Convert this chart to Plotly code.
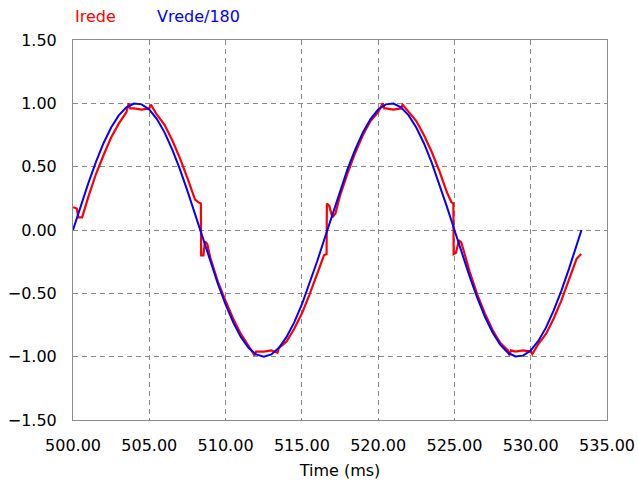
import plotly.graph_objects as go

# Vrede/180 (blue)
vrede_t = [500.0, 500.5, 501.0, 501.5, 502.0, 502.5, 503.0, 503.5, 504.0, 504.5,
           505.0, 505.5, 506.0, 506.5, 507.0, 507.5, 508.0, 508.5, 509.0, 509.5,
           510.0, 510.5, 511.0, 511.5, 512.0, 512.5, 513.0, 513.5, 514.0, 514.5,
           515.0, 515.5, 516.0, 516.5, 517.0, 517.5, 518.0, 518.5, 519.0, 519.5,
           520.0, 520.5, 521.0, 521.5, 522.0, 522.5, 523.0, 523.5, 524.0, 524.5,
           525.0, 525.5, 526.0, 526.5, 527.0, 527.5, 528.0, 528.5, 529.0, 529.5,
           530.0, 530.5, 531.0, 531.5, 532.0, 532.5, 533.0, 533.33]
vrede_v = [0.0, 0.187, 0.368, 0.536, 0.685, 0.809, 0.905, 0.969, 0.998, 0.992,
           0.951, 0.876, 0.771, 0.637, 0.482, 0.309, 0.125, -0.063, -0.249, -0.426,
           -0.588, -0.729, -0.844, -0.930, -0.982, -1.0, -0.982, -0.930, -0.844, -0.729,
           -0.588, -0.426, -0.249, -0.063, 0.125, 0.309, 0.482, 0.637, 0.771, 0.876,
           0.951, 0.992, 0.998, 0.969, 0.905, 0.809, 0.685, 0.536, 0.368, 0.187,
           0.0, -0.187, -0.368, -0.536, -0.685, -0.809, -0.905, -0.969, -0.998, -0.992,
           -0.951, -0.876, -0.771, -0.637, -0.482, -0.309, -0.125, 0.0]

# Irede (red)
irede_t = [500.0, 500.25, 500.35, 500.6, 501.0, 501.5, 502.0, 502.5, 503.0, 503.5,
           503.65, 503.75, 504.0, 504.5, 505.0, 505.1, 505.5, 506.0, 506.5, 507.0,
           507.5, 508.0, 508.2, 508.38, 508.4, 508.55, 508.65, 508.8, 509.0, 509.5,
           510.0, 510.5, 511.0, 511.5, 511.9, 512.0, 512.5, 513.0, 513.4, 513.5,
           514.0, 514.5, 515.0, 515.5, 516.0, 516.45, 516.62, 516.64, 516.8, 517.0,
           517.2, 517.5, 518.0, 518.5, 519.0, 519.5, 520.0, 520.3, 520.4, 520.5,
           521.0, 521.5, 521.6, 522.0, 522.5, 523.0, 523.5, 524.0, 524.5, 524.8,
           524.93, 524.95, 525.1, 525.3, 525.45, 525.6, 526.0, 526.5, 527.0, 527.5,
           528.0, 528.5, 528.6, 528.7, 529.0, 529.5, 530.0, 530.1, 530.5, 531.0,
           531.5, 532.0, 532.5, 533.0, 533.3]
irede_v = [0.18, 0.17, 0.10, 0.10, 0.26, 0.44, 0.59, 0.73, 0.84, 0.93,
           1.00, 0.96, 0.96, 0.95, 0.96, 0.99, 0.91, 0.83, 0.71, 0.57,
           0.41, 0.24, 0.22, 0.21, -0.20, -0.20, -0.09, -0.11, -0.22, -0.41,
           -0.56, -0.70, -0.82, -0.91, -0.99, -0.96, -0.96, -0.95, -0.97, -0.93,
           -0.88, -0.78, -0.66, -0.51, -0.34, -0.20, -0.19, 0.21, 0.19, 0.10,
           0.13, 0.27, 0.45, 0.61, 0.75, 0.86, 0.93, 1.00, 0.96, 0.96,
           0.95, 0.96, 0.99, 0.93, 0.86, 0.75, 0.62, 0.47, 0.30, 0.22,
           0.21, -0.19, -0.18, -0.08, -0.10, -0.16, -0.33, -0.51, -0.66, -0.79,
           -0.89, -0.95, -0.99, -0.95, -0.96, -0.95, -0.96, -0.98, -0.90, -0.82,
           -0.70, -0.56, -0.40, -0.23, -0.19]

x_ticks = [500, 505, 510, 515, 520, 525, 530, 535]
y_ticks = [-1.5, -1.0, -0.5, 0.0, 0.5, 1.0, 1.5]

FONT = "DejaVu Sans"
GRID = "#8a8a8a"

fig = go.Figure()
fig.add_trace(go.Scatter(x=irede_t, y=irede_v, mode="lines", name="Irede",
                         line={"color": "#ff0000", "width": 2.2}))
fig.add_trace(go.Scatter(x=vrede_t, y=vrede_v, mode="lines", name="Vrede/180",
                         line={"color": "#0000ff", "width": 2}))

axis_common = dict(showline=True, mirror=True, linecolor="#8c8c8c", linewidth=1,
                   showgrid=True, gridcolor=GRID, griddash="5px,4px", gridwidth=1,
                   zeroline=False, ticks="", tickformat=".2f", automargin=False,
                   tickfont={"family": FONT, "size": 16, "color": "#000000"})

fig.update_xaxes(range=[500, 535], tickvals=x_ticks, ticklabelstandoff=11,
                 title={"text": "Time (ms)", "font": {"family": FONT, "size": 16, "color": "#000000"},
                        "standoff": 10},
                 **axis_common)
fig.update_yaxes(range=[-1.5, 1.5], tickvals=y_ticks, ticklabelstandoff=12, **axis_common)

fig.add_annotation(x=0, y=1, xref="paper", yref="paper", xanchor="left", yanchor="bottom",
                   yshift=12, text="Irede", showarrow=False,
                   font={"family": FONT, "size": 16, "color": "#ff0000"})
fig.add_annotation(x=0.1536, y=1, xref="paper", yref="paper", xanchor="left", yanchor="bottom",
                   yshift=12, text="Vrede/180", showarrow=False,
                   font={"family": FONT, "size": 16, "color": "#0000ff"})

fig.update_layout(width=638, height=487, showlegend=False,
                  paper_bgcolor="white", plot_bgcolor="white",
                  margin={"l": 73, "r": 31, "t": 40, "b": 67})

# drop the page's default body margin so the figure fills the window exactly
fig.write_html("out.html", config={"displayModeBar": False},
               post_script="document.body.style.margin='0';document.body.style.overflow='hidden';")
